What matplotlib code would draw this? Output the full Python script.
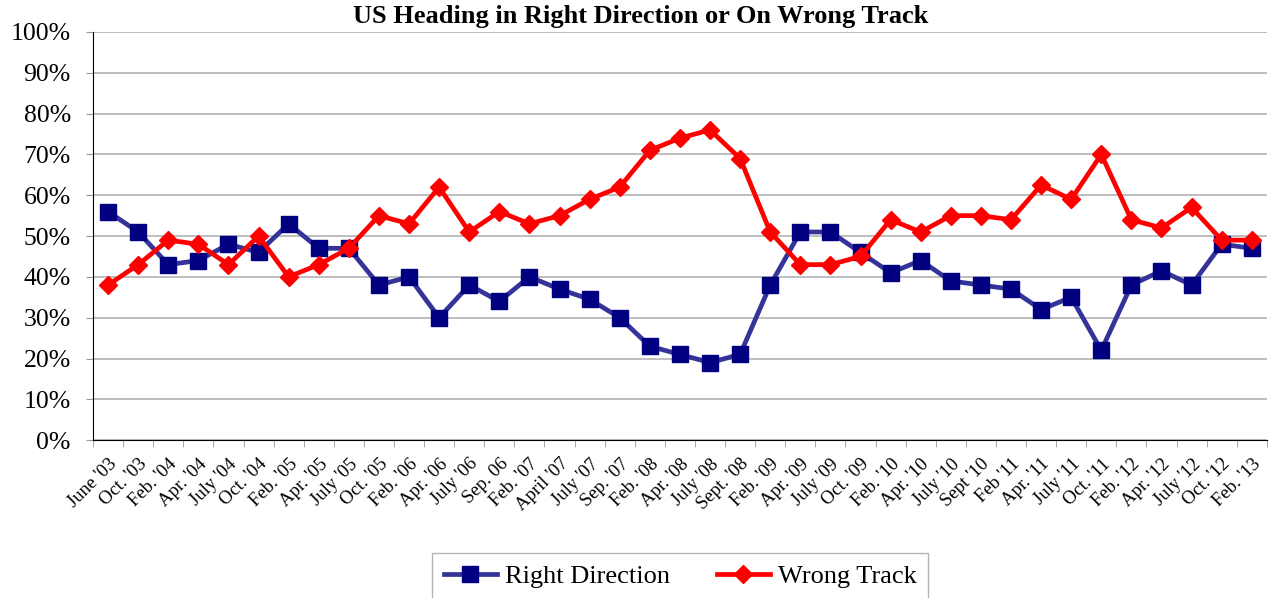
import matplotlib.pyplot as plt
import numpy as np

# Datos
fechas = ["June '03", "Oct. '03", "Feb. '04", "Apr. '04", "July '04", "Oct. '04",
          "Feb. '05", "Apr. '05", "July '05", "Oct. '05", "Feb. '06", "Apr. '06",
          "July '06", "Sep. 06", "Feb. '07", "April '07", "July '07", "Sep. '07",
          "Feb. '08", "Apr. '08", "July '08", "Sept. '08", "Feb. '09", "Apr. '09",
          "July '09", "Oct. '09", "Feb. '10", "Apr. '10", "July '10", "Sept '10",
          "Feb '11", "Apr. '11", "July '11", "Oct. '11", "Feb. '12", "Apr. '12",
          "July '12", "Oct. '12", "Feb. '13"]

right_direction = [56, 51, 43, 44, 48, 46, 53, 47, 47, 38, 40, 30, 38, 34, 40, 37,
                   34.5, 30, 23, 21, 19, 21, 38, 51, 51, 46, 41, 44, 39, 38, 37, 32,
                   35, 22, 38, 41.5, 38, 48, 47]

wrong_track = [38, 43, 49, 48, 43, 50, 40, 43, 47, 55, 53, 62, 51, 56, 53, 55,
               59, 62, 71, 74, 76, 69, 51, 43, 43, 45, 54, 51, 55, 55, 54, 62.5,
               59, 70, 54, 52, 57, 49, 49]

plt.rcParams['font.family'] = ['Liberation Serif', 'DejaVu Serif']

fig = plt.figure(figsize=(12.69, 5.98), dpi=100)
ax = fig.add_axes([0.0733, 0.264, 0.925, 0.6825])

x = np.arange(len(fechas))
ax.plot(x, right_direction, color='#333399', linewidth=3.4, marker='s',
        markersize=11, markerfacecolor='#000080', markeredgecolor='#000080',
        label='Right Direction', zorder=3)
ax.plot(x, wrong_track, color='#FF0000', linewidth=3.4, marker='D',
        markersize=9, markerfacecolor='#FF0000', markeredgecolor='#FF0000',
        label='Wrong Track', zorder=3)

ax.set_xlim(-0.5, len(fechas) - 0.5)
ax.set_ylim(0, 100)
ax.set_yticks(np.arange(0, 101, 10))
ax.set_yticklabels([f"{v}%" for v in range(0, 101, 10)], fontsize=18.5)
ax.grid(axis='y', color='#b3b3b3', linewidth=1.2, zorder=0)

# marcas entre categorias, etiquetas en el centro
ax.set_xticks(x)
ax.set_xticklabels(fechas, rotation=45, ha='right', rotation_mode='anchor', fontsize=13.5)
ax.tick_params(axis='x', length=0, pad=11)
ax.set_xticks(np.arange(-0.5, len(fechas), 1), minor=True)
ax.tick_params(axis='x', which='minor', length=5, color='#999999')
ax.tick_params(axis='y', length=5, color='#999999', pad=11)

for lado in ['top', 'right']:
    ax.spines[lado].set_visible(False)
ax.spines['left'].set_color('black')
ax.spines['bottom'].set_color('black')

fig.text(0.505, 0.973, 'US Heading in Right Direction or On Wrong Track', fontsize=19,
         fontweight='bold', ha='center', va='center')

leg = fig.legend(loc='upper center', bbox_to_anchor=(0.536, 0.076), ncol=2,
                 fontsize=19, frameon=True, fancybox=False, handlelength=2.0,
                 handletextpad=0.3, columnspacing=1.8, borderpad=0.45,
                 borderaxespad=0)
leg.get_frame().set_edgecolor('#a0a0a0')
leg.get_frame().set_linewidth(1.0)

fig.savefig('out.png', dpi=100)
